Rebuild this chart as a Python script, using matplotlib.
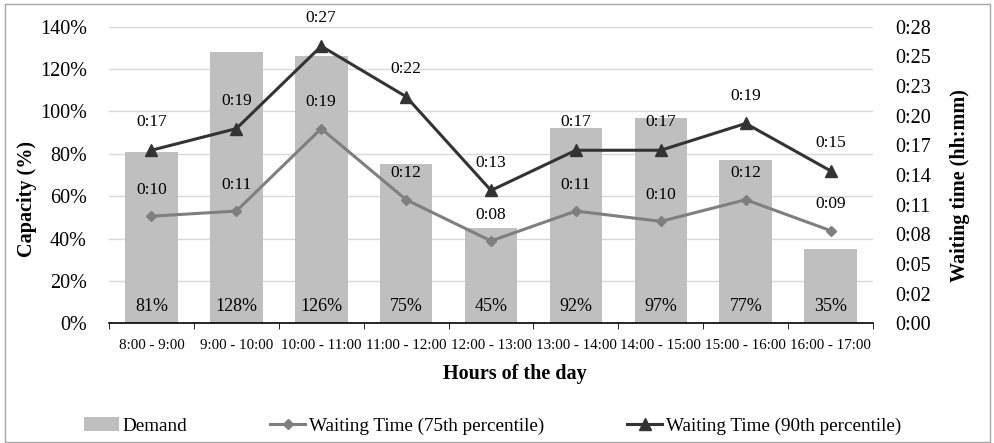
import numpy as np
import matplotlib
matplotlib.use("Agg")
import matplotlib.pyplot as plt
from matplotlib.ticker import FixedLocator, FuncFormatter
from matplotlib.patches import Rectangle

plt.rcParams['font.family'] = ['Liberation Serif', 'DejaVu Serif']

# ------------------------------------------
# DATA
# ------------------------------------------
hours = ["8:00 - 9:00", "9:00 - 10:00", "10:00 - 11:00", "11:00 - 12:00",
         "12:00 - 13:00", "13:00 - 14:00", "14:00 - 15:00", "15:00 - 16:00",
         "16:00 - 17:00"]
demand = [81, 128, 126, 75, 45, 92, 97, 77, 35]            # % capacity
wait_75 = [10.4, 10.9, 18.9, 12.0, 8.0, 10.9, 9.9, 12.0, 9.0]   # minutes
wait_90 = [16.8, 18.9, 26.9, 22.0, 12.9, 16.8, 16.8, 19.4, 14.8]  # minutes

def mmss(v):
    m = int(round(v))
    return "%d:%02d" % (m // 60, m % 60)

# ------------------------------------------
# FIGURE
# ------------------------------------------
fig = plt.figure(figsize=(9.95, 4.43), dpi=100)
ax = fig.add_axes([0.1095, 0.27, 0.768, 0.67])
ax2 = ax.twinx()

x = np.arange(len(hours))

# bars
ax.bar(x, demand, width=0.62, color="#bfbfbf", zorder=2, label="Demand")
for xi, d in zip(x, demand):
    ax.text(xi, 4, "%d%%" % d, ha="center", va="bottom", fontsize=13, zorder=3)

ax.set_ylim(0, 140)
ax.set_xlim(-0.5, len(hours) - 0.5)
ax.set_yticks(np.arange(0, 141, 20))
ax.yaxis.set_major_formatter(FuncFormatter(lambda v, p: "%d%%" % v))
ax.grid(axis="y", color="#d9d9d9", lw=1, zorder=0)
ax.set_axisbelow(True)

ax.set_xticks(x)
ax.set_xticklabels(hours, fontsize=10.8)
ax.xaxis.set_minor_locator(FixedLocator(np.arange(-0.5, len(hours), 1)))
ax.tick_params(axis="x", which="major", length=0, pad=11)
ax.tick_params(axis="x", which="minor", length=4, direction="out", color="black")
ax.tick_params(axis="y", length=0, labelsize=14.5, pad=16)

for s in ["top", "right", "left"]:
    ax.spines[s].set_visible(False)
ax.spines["bottom"].set_color("black")
ax.spines["bottom"].set_linewidth(1.2)

ax.set_ylabel("Capacity (%)", fontsize=14.5, fontweight="bold")
ax.yaxis.set_label_coords(-0.094, 0.42)
ax.set_xlabel("Hours of the day", fontsize=14.5, fontweight="bold")
ax.xaxis.set_label_coords(0.531, -0.138)

# lines on right axis
ax2.plot(x, wait_75, color="#7f7f7f", lw=2.2, marker="D", markersize=5.5,
         label="Waiting Time (75th percentile)", zorder=4)
ax2.plot(x, wait_90, color="#333333", lw=2.2, marker="^", markersize=8.5,
         label="Waiting Time (90th percentile)", zorder=5)
for xi, v in zip(x, wait_75):
    ax2.annotate(mmss(v), (xi, v), xytext=(0, 19), textcoords="offset points",
                 ha="center", va="center", fontsize=12.5)
for xi, v in zip(x, wait_90):
    ax2.annotate(mmss(v), (xi, v), xytext=(0, 20), textcoords="offset points",
                 ha="center", va="center", fontsize=12.5)

ax2.set_ylim(0, 28.8)
ax2.set_yticks(np.linspace(0, 28.8, 11))
ax2.yaxis.set_major_formatter(FuncFormatter(lambda v, p: "0:%02d" % int(v + 1e-6)))
ax2.tick_params(axis="y", length=0, labelsize=14.5, pad=16)
for s in ["top", "right", "left", "bottom"]:
    ax2.spines[s].set_visible(False)
ax2.set_ylabel("Waiting time (hh:mm)", fontsize=14.5, fontweight="bold")
ax2.yaxis.set_label_coords(1.100, 0.466)

# legend
h1, l1 = ax.get_legend_handles_labels()
h2, l2 = ax2.get_legend_handles_labels()
fig.legend(h1 + h2, l1 + l2, loc="center", bbox_to_anchor=(0.495, 0.038), ncol=3,
           frameon=False, fontsize=13.8, handlelength=1.8, handletextpad=0.2,
           columnspacing=4.35)

# outer border
fig.patches.append(Rectangle((0.005, 0.003), 0.99, 0.987, transform=fig.transFigure,
                             fill=False, edgecolor="#a6a6a6", lw=1))

plt.savefig("out.png", dpi=100)
